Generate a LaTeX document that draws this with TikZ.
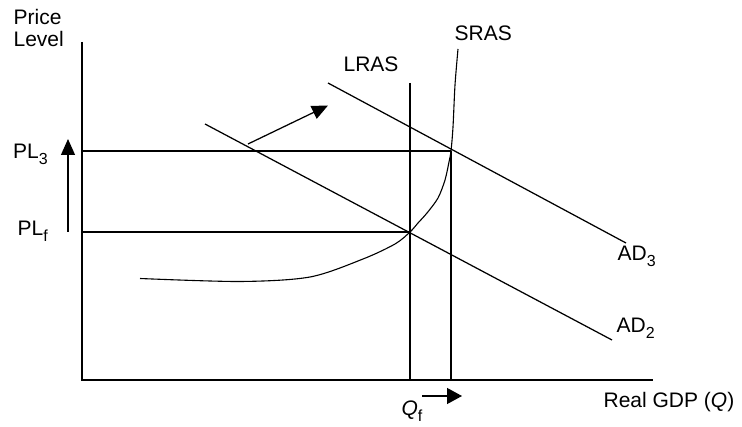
\documentclass[tikz,border=0pt]{standalone}
\usepackage{fontspec}
\setmainfont{Liberation Sans}
\usetikzlibrary{arrows.meta}
\newcommand{\mysub}[1]{\raisebox{-0.28em}{\fontsize{16}{16}\selectfont #1}}
\begin{document}
\begin{tikzpicture}[x=1pt,y=-1pt,line width=1.25pt,
  lbl/.style={anchor=base west,inner sep=0pt,font=\fontsize{21}{23}\selectfont},
  vline/.style={line width=1.8pt},
  tri/.style={-{Triangle[length=16pt,width=14pt]}}]
\useasboundingbox (0,0) rectangle (742,427);
% coordinates
\coordinate (O) at (82,380);
\coordinate (ytop) at (82,42);
\coordinate (xend) at (653,380);
\coordinate (E1) at (410,232);
\coordinate (E3) at (451,151);
\coordinate (LRtop) at (410,83);
\coordinate (LRbot) at (410,380);
\coordinate (V3bot) at (451,380);
\coordinate (PL3y) at (82,151);
\coordinate (PLfy) at (82,232);
\coordinate (AD3a) at (328,83);
\coordinate (AD3b) at (626,243);
\coordinate (AD2a) at (205,124);
\coordinate (AD2b) at (612,340);
\coordinate (sh1) at (248,144);
\coordinate (sh2) at (328,105.5);
\coordinate (up1) at (68,232);
\coordinate (up2) at (68,139);
\coordinate (q1) at (422,396);
\coordinate (q2) at (462,396);
% axes
\draw (ytop) -- (O) -- (xend);
% price lines
\draw (PL3y) -- (E3);
\draw (PLfy) -- (E1);
% verticals
\draw[vline] (LRtop) -- (LRbot);
\draw[vline] (E3) -- (V3bot);
% AD curves
\draw (AD3a) -- (AD3b);
\draw (AD2a) -- (AD2b);
% SRAS
\draw[line width=1.1pt] plot[smooth,tension=0.5] coordinates {(140,278.5) (240,281.5) (310,277) (363,259) (395,244) (410,232) (418,223) (427,213) (438,198) (445,180) (449,162) (451,151) (453,127) (455,85) (458,49)};
% arrows
\draw[tri] (sh1) -- (sh2);
\draw[tri] (up1) -- (up2);
\draw[-{Triangle[length=15pt,width=16pt]}] (q1) -- (q2);
% labels
\node[lbl] (price) at (13,25) {Price};
\node[lbl] (level) at (13,47) {Level};
\node[lbl] (pl3) at (12.5,159) {PL\mysub{3}};
\node[lbl] (plf) at (17,236) {PL\mysub{f}};
\node[lbl] (lras) at (343,72) {LRAS};
\node[lbl] (sras) at (454,41) {SRAS};
\node[lbl] (ad3) at (617,261) {AD\mysub{3}};
\node[lbl] (ad2) at (616,333) {AD\mysub{2}};
\node[lbl] (qf) at (401,416) {\textit{Q}\mysub{f}};
\node[lbl] (gdp) at (603,408) {Real GDP (\textit{Q})};
\end{tikzpicture}
\end{document}
